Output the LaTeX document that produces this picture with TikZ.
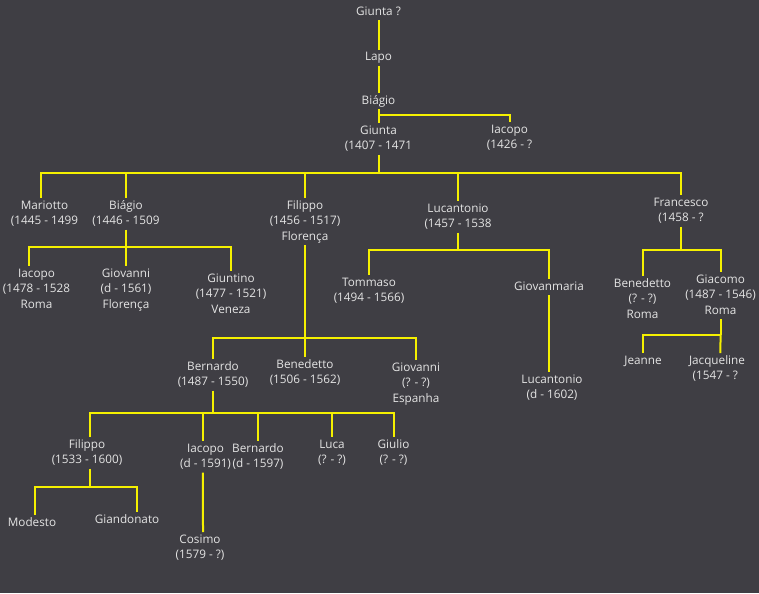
\documentclass[tikz,border=0pt]{standalone}
\usepackage{fontspec}
\setmainfont{Open Sans}
\definecolor{bg}{HTML}{3F3E44}
\definecolor{yel}{HTML}{F5F000}
\definecolor{txt}{HTML}{E4E4E4}
\newcommand\fnt{\fontsize{8.8}{11.6}\selectfont}
\tikzset{
  nd/.style={anchor=north, yshift=8.1pt, align=center, inner sep=0pt, text=txt, font=\fnt},
  ln/.style={draw=yel, line width=1.5pt}
}
\begin{document}
\begin{tikzpicture}[x=0.75pt, y=-0.75pt]
\useasboundingbox (0,0) rectangle (759,593);
\fill[bg] (0,0) rectangle (759,593);

% nodes
\node[nd] (giunta0) at (378.5,15) {\strut Giunta ?};
\node[nd] (lapo) at (378.5,60.5) {\strut Lapo};
\node[nd] (biagio0) at (378.5,104) {\strut Biágio};
\node[nd] (giunta) at (378.5,134) {\strut Giunta\\\strut(1407 - 1471};
\node[nd] (iacopoA) at (509.5,133) {\strut Iacopo\\\strut(1426 - ?};

\node[nd] (mariotto) at (44.5,209) {\strut Mariotto\\\strut(1445 - 1499};
\node[nd] (biagio1) at (126,209) {\strut Biágio\\\strut(1446 - 1509};
\node[nd] (filippo1) at (305,209) {\strut Filippo\\\strut(1456 - 1517)\\\strut Florença};
\node[nd] (lucantonio1) at (458,212) {\strut Lucantonio\\\strut(1457 - 1538};
\node[nd] (francesco) at (681,206) {\strut Francesco\\\strut(1458 - ?};

\node[nd] (iacopoB) at (36.5,277) {\strut Iacopo\\\strut(1478 - 1528\\\strut Roma};
\node[nd] (giovanniA) at (126,277) {\strut Giovanni\\\strut(d - 1561)\\\strut Florença};
\node[nd] (giuntino) at (231,282) {\strut Giuntino\\\strut(1477 - 1521)\\\strut Veneza};

\node[nd] (tommaso) at (369,286) {\strut Tommaso\\\strut(1494 - 1566)};
\node[nd] (giovanmaria) at (549,290) {\strut Giovanmaria};
\node[nd] (lucantonio2) at (552,383) {\strut Lucantonio\\\strut(d - 1602)};

\node[nd] (benedettoB) at (642.5,287) {\strut Benedetto\\\strut(? - ?)\\\strut Roma};
\node[nd] (giacomo) at (720.5,283) {\strut Giacomo\\\strut(1487 - 1546)\\\strut Roma};
\node[nd] (jeanne) at (643,364) {\strut Jeanne};
\node[nd] (jacqueline) at (717,364) {\strut Jacqueline\\\strut(1547 - ?\hphantom{)}};

\node[nd] (bernardoA) at (213,370) {\strut Bernardo\\\strut(1487 - 1550)};
\node[nd] (benedettoA) at (305,368) {\strut Benedetto\\\strut(1506 - 1562)};
\node[nd] (giovanniB) at (416,371) {\strut Giovanni\\\strut(? - ?)\\\strut Espanha};

\node[nd] (filippo2) at (87,448) {\strut Filippo\\\strut(1533 - 1600)};
\node[nd] (iacopoC) at (205.5,452) {\strut Iacopo\\\strut(d - 1591)};
\node[nd] (bernardoB) at (258,452) {\strut Bernardo\\\strut(d - 1597)};
\node[nd] (luca) at (332,448) {\strut Luca\\\strut(? - ?)};
\node[nd] (giulio) at (393.5,448) {\strut Giulio\\\strut(? - ?)};

\node[nd] (modesto) at (32,526) {\strut Modesto};
\node[nd] (giandonato) at (127,523) {\strut Giandonato};
\node[nd] (cosimo) at (200,543) {\strut Cosimo\\\strut(1579 - ?)};

% bus coordinates
\coordinate (j0) at (378.5,114.5);
\coordinate (b1) at (378.5,173);
\coordinate (b2) at (126,247);
\coordinate (b3) at (305,338);
\coordinate (b4) at (458,250);
\coordinate (b5) at (681,250);
\coordinate (b6) at (720.5,335);
\coordinate (b7) at (213,413);
\coordinate (b8) at (90,487);

% connectors
\draw[ln] (giunta0.south) -- (lapo.north);
\draw[ln] (lapo.south) -- (biagio0.north);
\draw[ln] (biagio0.south) -- (giunta.north);
\draw[ln] (j0) -| (iacopoA.north);

\draw[ln] (giunta.south) -- (b1);
\draw[ln] (b1) -| ([xshift=-2.6pt]mariotto.north);
\draw[ln] (b1) -| (biagio1.north);
\draw[ln] (b1) -| (filippo1.north);
\draw[ln] (b1) -| (lucantonio1.north);
\draw[ln] (b1) -| (francesco.north);

\draw[ln] (biagio1.south) -- (b2);
\draw[ln] (b2) -| ([xshift=-5.6pt]iacopoB.north);
\draw[ln] (b2) -- (giovanniA.north);
\draw[ln] (b2) -| (giuntino.north);

\draw[ln] (filippo1.south) -- (b3);
\draw[ln] (b3) -| (bernardoA.north);
\draw[ln] (b3) -- (benedettoA.north);
\draw[ln] (b3) -| (giovanniB.north);

\draw[ln] (lucantonio1.south) -- (b4);
\draw[ln] (b4) -| (tommaso.north);
\draw[ln] (b4) -| (giovanmaria.north);
\draw[ln] (giovanmaria.south) -- ([xshift=-2.25pt]lucantonio2.north);

\draw[ln] (francesco.south) -- (b5);
\draw[ln] (b5) -| (benedettoB.north);
\draw[ln] (b5) -| (giacomo.north);

\draw[ln] (giacomo.south) -- (b6);
\draw[ln] (b6) -| (jeanne.north);
\draw[ln] (b6) -- ([xshift=2.6pt]jacqueline.north);

\draw[ln] (bernardoA.south) -- (b7);
\draw[ln] (b7) -| ([xshift=2.25pt]filippo2.north);
\draw[ln] (b7) -| ([xshift=-1.9pt]iacopoC.north);
\draw[ln] (b7) -| (bernardoB.north);
\draw[ln] (b7) -| (luca.north);
\draw[ln] (b7) -| (giulio.north);

\draw[ln] ([xshift=2.25pt]filippo2.south) -- (b8);
\draw[ln] (b8) -| ([xshift=2.25pt]modesto.north);
\draw[ln] (b8) -| ([xshift=7.5pt]giandonato.north);

\draw[ln] ([xshift=-1.9pt]iacopoC.south) -- ([xshift=2.25pt]cosimo.north);
\end{tikzpicture}
\end{document}
